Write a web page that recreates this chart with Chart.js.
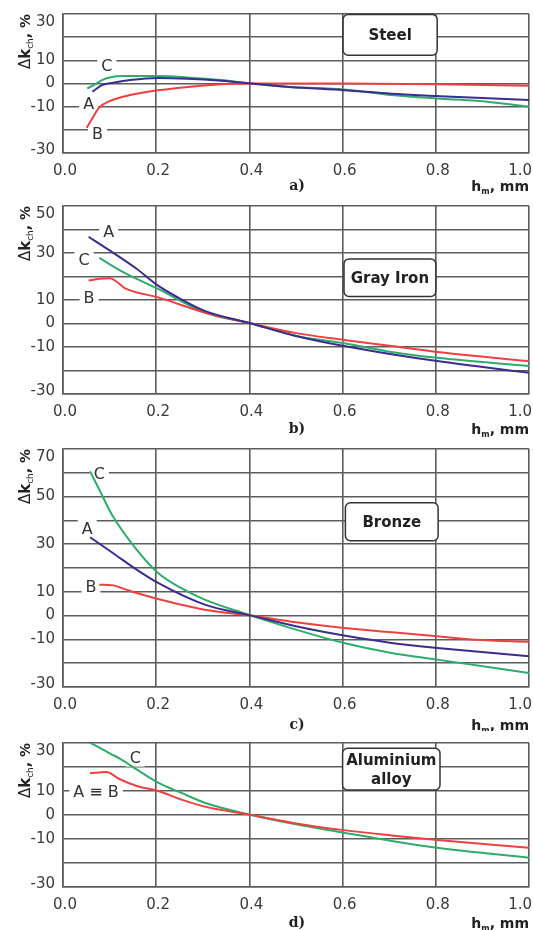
<!DOCTYPE html>
<html>
<head>
<meta charset="utf-8">
<script src="https://cdn.jsdelivr.net/npm/chart.js@4.4.1/dist/chart.umd.min.js"></script>
<style>
  html, body { margin: 0; padding: 0; background: #fff; }
  #wrap { position: relative; width: 533px; height: 930px; overflow: hidden; }
  #wrap canvas { position: absolute; left: 0; }
</style>
</head>
<body>
<div id="wrap">
  <canvas id="chartA"></canvas>
  <canvas id="chartB"></canvas>
  <canvas id="chartC"></canvas>
  <canvas id="chartD"></canvas>
</div>
<script>
// shared x axis (h_m, mm)
const xTicks = [0.0, 0.2, 0.4, 0.6, 0.8, 1.0];

// a) Steel
const steelTicks = [30, 10, 0, -10, -30];
const steelAx = [0.063, 0.085, 0.107, 0.144, 0.204, 0.267, 0.34, 0.404, 0.486, 0.603, 0.705, 0.803, 0.887, 1.0];
const steelAy = [-3.5, -0.6, 0.3, 1.5, 2.4, 2.1, 1.2, 0, -1.5, -2.9, -4.4, -5.4, -6.2, -7.1];
const steelBx = [0.051, 0.063, 0.078, 0.1, 0.144, 0.204, 0.267, 0.34, 0.404, 0.603, 0.803, 1.0];
const steelBy = [-19.1, -15, -10.3, -7.6, -5, -2.9, -1.5, -0.3, 0, 0, -0.3, -1.0];
const steelCx = [0.052, 0.067, 0.085, 0.1, 0.129, 0.204, 0.267, 0.34, 0.404, 0.486, 0.603, 0.705, 0.803, 0.887, 1.0];
const steelCy = [-2.1, -0.6, 1.6, 2.6, 3.2, 3.2, 2.6, 1.5, 0, -1.5, -2.6, -5.0, -6.5, -7.4, -9.9];

// b) Gray Iron
const ironTicks = [50, 30, 10, 0, -10, -30];
const ironAx = [0.055, 0.1, 0.158, 0.204, 0.253, 0.304, 0.404, 0.5, 0.603, 0.705, 0.803, 1.0];
const ironAy = [36.9, 31.1, 23.3, 16.1, 10.4, 5.4, 0, -5.3, -9.6, -13.1, -16, -21];
const ironBx = [0.055, 0.078, 0.1, 0.136, 0.204, 0.304, 0.404, 0.5, 0.603, 0.705, 0.803, 1.0];
const ironBy = [18.3, 19, 19.3, 14.7, 11.1, 4.7, 0, -4.1, -7, -9.6, -12.1, -16];
const ironCx = [0.078, 0.122, 0.204, 0.304, 0.404, 0.5, 0.603, 0.705, 0.803, 1.0];
const ironCy = [27.9, 22.6, 14.7, 4.7, 0, -5.3, -8.4, -12.1, -14.6, -18.1];

// c) Bronze
const bronzeTicks = [70, 50, 30, 10, 0, -10, -30];
const bronzeAx = [0.058, 0.107, 0.158, 0.204, 0.304, 0.404, 0.5, 0.603, 0.705, 0.803, 1.0];
const bronzeAy = [32.9, 26.3, 19.3, 13.7, 4.6, 0, -4.5, -8.4, -11.5, -13.6, -17.1];
const bronzeBx = [0.078, 0.107, 0.136, 0.158, 0.204, 0.304, 0.404, 0.5, 0.603, 0.705, 0.803, 0.887, 1.0];
const bronzeBy = [13, 12.7, 10.9, 9.5, 7, 2.5, 0, -2.8, -5.2, -7, -8.7, -10.1, -11];
const bronzeCx = [0.058, 0.078, 0.107, 0.158, 0.204, 0.253, 0.304, 0.404, 0.5, 0.603, 0.705, 0.803, 1.0];
const bronzeCy = [60.6, 52.9, 41.7, 27.7, 17.9, 11.6, 6.7, 0, -5.9, -11.5, -15.7, -18.5, -24.1];

// d) Aluminium alloy (A and B coincide)
const aluTicks = [30, 10, 0, -10, -30];
const aluABx = [0.058, 0.093, 0.122, 0.158, 0.204, 0.253, 0.304, 0.404, 0.5, 0.603, 0.705, 0.803, 1.0];
const aluABy = [17.4, 17.9, 14.9, 12.1, 10, 6.5, 3.5, 0, -3.5, -6.3, -8.5, -10.4, -13.6];
const aluCx = [0.055, 0.078, 0.1, 0.122, 0.158, 0.204, 0.253, 0.304, 0.404, 0.5, 0.603, 0.705, 0.803, 1.0];
const aluCy = [30.4, 28.1, 25.7, 23.5, 19, 13.5, 9.3, 5.1, 0, -3.9, -7.4, -10.8, -13.6, -17.8];

const BLUE = "#3b2d8e";
const RED = "#ee4040";
const GREEN = "#2fab6c";
const GRID = "#5c5c5c";
const TEXT = "#3a3a3a";
const SANS = "'DejaVu Sans', sans-serif";

const panels = [
  {
    id: "chartA", top: 14, bottom: 153, yMin: -30, yMax: 30, yTicks: steelTicks,
    caption: "a)", capOff: 37, name: ["Steel"], box: [0.601, 0.803, 29.8, 12.2],
    series: [[steelAx, steelAy, BLUE], [steelBx, steelBy, RED], [steelCx, steelCy, GREEN]],
    notes: [["C", 0.094, 7.8], ["A", 0.055, -8.7], ["B", 0.074, -21.6]]
  },
  {
    id: "chartB", top: 206, bottom: 394, yMin: -30, yMax: 50, yTicks: ironTicks,
    caption: "b)", capOff: 39, name: ["Gray Iron"], box: [0.603, 0.8, 27.5, 11.5],
    series: [[ironAx, ironAy, BLUE], [ironBx, ironBy, RED], [ironCx, ironCy, GREEN]],
    notes: [["A", 0.098, 39], ["C", 0.045, 26.9], ["B", 0.056, 11.1]]
  },
  {
    id: "chartC", top: 449, bottom: 687, yMin: -30, yMax: 70, yTicks: bronzeTicks,
    caption: "c)", capOff: 42, name: ["Bronze"], box: [0.606, 0.805, 47.4, 31.5],
    series: [[bronzeAx, bronzeAy, BLUE], [bronzeBx, bronzeBy, RED], [bronzeCx, bronzeCy, GREEN]],
    notes: [["C", 0.078, 59.4], ["A", 0.052, 36.4], ["B", 0.06, 12.2]]
  },
  {
    id: "chartD", top: 743, bottom: 887, yMin: -30, yMax: 30, yTicks: aluTicks,
    caption: "d)", capOff: 40, name: ["Aluminium", "alloy"], box: [0.6, 0.809, 27.8, 10.4],
    series: [[aluABx, aluABy, RED], [aluCx, aluCy, GREEN]],
    notes: [["C", 0.155, 23.9], ["A \u2261 B", 0.071, 9.6]]
  }
];

// draw a row of text pieces (for subscripts), returns end x
const drawRuns = (ctx, x, y, runs, measureOnly) => {
  runs.forEach(r => {
    ctx.font = r[1];
    if (!measureOnly) ctx.fillText(r[0], x, y + (r[2] || 0));
    x += ctx.measureText(r[0]).width;
  });
  return x;
};

const yTitle = [["\u0394", "15px " + SANS], ["k", "bold 15px " + SANS], ["ch", "9px " + SANS, 3], [", %", "bold 14px " + SANS]];
const xTitle = [["h", "bold 14px " + SANS], ["m", "bold 8px " + SANS, 3], [", mm", "bold 14px " + SANS]];

const makePanel = (p) => {
  const padTop = 8, below = 44;
  const canvas = document.getElementById(p.id);
  canvas.width = 533;
  canvas.height = padTop + (p.bottom - p.top) + below;
  canvas.style.top = (p.top - padTop) + "px";

  const textPlugin = {
    id: "panelText",
    beforeDatasetsDraw(chart) {
      const ctx = chart.ctx, xs = chart.scales.x, ys = chart.scales.y;
      ctx.save();
      // material box
      const bx0 = xs.getPixelForValue(p.box[0]), bx1 = xs.getPixelForValue(p.box[1]);
      const by0 = ys.getPixelForValue(p.box[2]), by1 = ys.getPixelForValue(p.box[3]);
      ctx.beginPath();
      ctx.roundRect(bx0, by0, bx1 - bx0, by1 - by0, 5);
      ctx.fillStyle = "#fff";
      ctx.fill();
      ctx.lineWidth = 1.5;
      ctx.strokeStyle = "#333";
      ctx.stroke();
      ctx.fillStyle = "#222";
      ctx.font = "bold 15px " + SANS;
      ctx.textAlign = "center";
      ctx.textBaseline = "middle";
      const cy = (by0 + by1) / 2, lh = 19;
      p.name.forEach((line, i) => {
        ctx.fillText(line, (bx0 + bx1) / 2, cy + (i - (p.name.length - 1) / 2) * lh + 1);
      });
      // curve letters sitting on the grid
      ctx.font = "16px " + SANS;
      p.notes.forEach(n => {
        const x = xs.getPixelForValue(n[1]), y = ys.getPixelForValue(n[2]);
        const w = ctx.measureText(n[0]).width;
        ctx.fillStyle = "#fff";
        ctx.fillRect(x - w / 2 - 4, y - 9, w + 8, 18);
        ctx.fillStyle = "#333";
        ctx.fillText(n[0], x, y + 1);
      });
      ctx.restore();
    },
    afterDraw(chart) {
      const ctx = chart.ctx, xs = chart.scales.x, ys = chart.scales.y;
      const area = chart.chartArea;
      ctx.save();
      ctx.fillStyle = TEXT;
      ctx.font = "15px " + SANS;
      // y tick labels
      ctx.textAlign = "right";
      ctx.textBaseline = "middle";
      p.yTicks.forEach(v => {
        let y = ys.getPixelForValue(v);
        y = Math.max(y, area.top + 8);
        y = Math.min(y, area.bottom - 3);
        ctx.fillText(String(v), area.left - 8, y);
      });
      // x tick labels
      ctx.textAlign = "center";
      xTicks.forEach(v => {
        const s = v.toFixed(1);
        const w = ctx.measureText(s).width;
        let x = xs.getPixelForValue(v) + 2;
        x = Math.min(x, 532 - w / 2);
        ctx.fillText(s, x, area.bottom + 18);
      });
      // caption a) b) ...
      ctx.fillStyle = "#222";
      ctx.font = "bold 14px 'DejaVu Serif', serif";
      ctx.textBaseline = "alphabetic";
      ctx.fillText(p.caption, (area.left + area.right) / 2 + 1, area.bottom + p.capOff);
      // x title, right aligned
      ctx.textAlign = "left";
      const w = drawRuns(ctx, 0, 0, xTitle, true);
      drawRuns(ctx, 529 - w, area.bottom + p.capOff + 1, xTitle);
      // y title, rotated
      const tw = drawRuns(ctx, 0, 0, yTitle, true);
      ctx.translate(30, area.top + tw);
      ctx.rotate(-Math.PI / 2);
      drawRuns(ctx, 0, 0, yTitle);
      ctx.restore();
    }
  };

  const datasets = p.series.map(s => ({
    data: s[0].map((x, i) => ({ x: x, y: s[1][i] })),
    borderColor: s[2],
    borderWidth: 2,
    pointRadius: 0,
    fill: false,
    cubicInterpolationMode: "monotone"
  }));

  return new Chart(canvas, {
    type: "line",
    data: { datasets: datasets },
    options: {
      responsive: false,
      animation: false,
      events: [],
      layout: { padding: { top: padTop, right: 4, left: 0, bottom: 0 } },
      plugins: { legend: { display: false }, tooltip: { enabled: false } },
      scales: {
        x: {
          type: "linear", min: 0, max: 1,
          ticks: { stepSize: 0.2, display: false },
          grid: { color: GRID, lineWidth: 1.6, drawTicks: false },
          border: { color: GRID, width: 1.6 },
          afterFit: s => { s.height = below; }
        },
        y: {
          min: p.yMin, max: p.yMax,
          ticks: { stepSize: 10, display: false },
          grid: { color: GRID, lineWidth: 1.6, drawTicks: false },
          border: { color: GRID, width: 1.6 },
          afterFit: s => { s.width = 63; }
        }
      }
    },
    plugins: [textPlugin]
  });
};

panels.forEach(makePanel);
</script>
</body>
</html>
